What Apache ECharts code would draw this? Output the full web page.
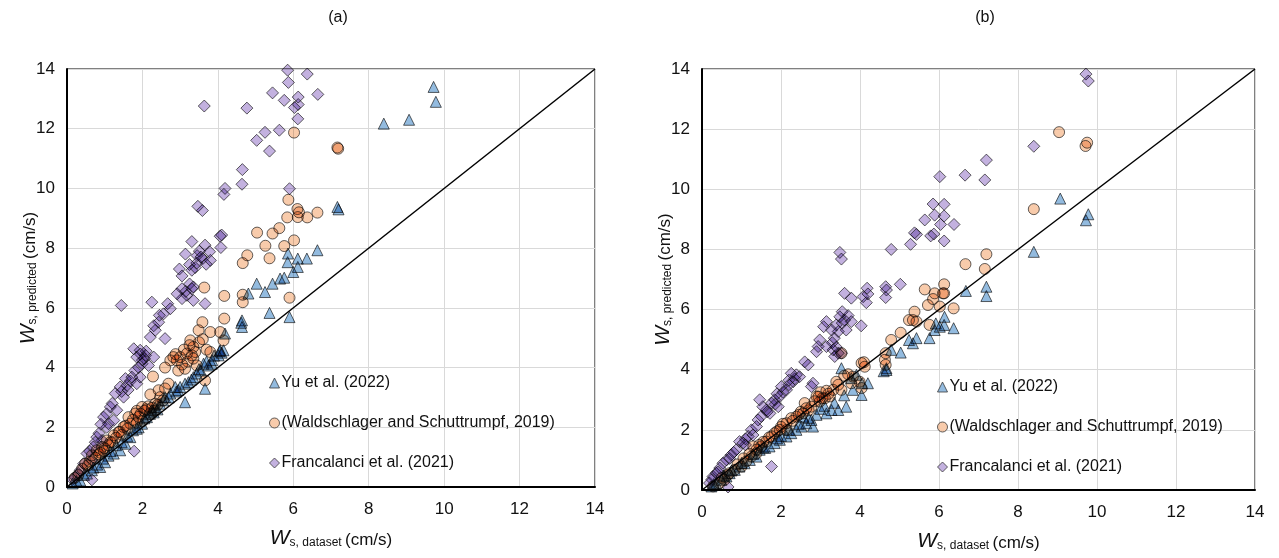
<!DOCTYPE html>
<html>
<head>
<meta charset="utf-8">
<script src="https://cdn.jsdelivr.net/npm/echarts@6/dist/echarts.min.js"></script>
<style>
html,body{margin:0;padding:0;background:#fff;}
#chart{width:1279px;height:558px;}
</style>
</head>
<body>
<div id="chart"></div>
<script>
// ---------- DATA ----------
const panelTitles = ['(a)', '(b)'];
const seriesNames = ['Yu et al. (2022)', '(Waldschlager and Schuttrumpf, 2019)', 'Francalanci et al. (2021)'];
const axisTicks = [0, 2, 4, 6, 8, 10, 12, 14];
const oneToOne = [[0, 0], [14, 14]];

// Panel (a): [W_s,dataset, W_s,predicted]
const aYu = [
  [9.72,13.4],[9.78,12.9],[9.07,12.3],[8.4,12.17],[7.17,9.38],[7.2,9.3],
  [6.64,7.93],[6.36,7.65],[6.12,7.65],[6.12,7.37],[6.0,7.2],[5.86,7.82],[5.85,7.53],
  [5.76,7.01],[5.65,6.98],[5.45,6.81],[5.25,6.53],[5.03,6.81],[4.81,6.48],
  [5.9,5.69],[5.37,5.83],[4.64,5.58],[4.64,5.36],[4.62,5.5],[4.19,5.14],[4.15,4.58],[4.02,4.41],
  [4.06,4.58],[4.1,4.5],[3.84,4.13],[3.75,4.07],[3.62,4.13],[3.66,3.29],[3.44,3.8],[3.35,3.68],
  [3.22,3.51],[3.13,3.46],[3.13,2.84],[3.0,3.35],[2.87,3.35],[2.74,3.13],[2.6,3.01],
  [2.47,2.79],[2.34,2.68],[2.25,2.57],[2.12,2.34],[1.99,2.12],[1.85,1.95],[1.68,1.67],
  [1.55,1.45],[1.41,1.23],[1.24,1.12],[1.01,0.83],[0.88,0.67],[0.66,0.56],[0.53,0.45],
  [0.35,0.22],[2.9,3.2],[2.55,2.9],[2.05,2.3],[1.75,1.9],[1.3,1.4],[1.1,1.05],[0.8,0.75],
  [3.5,3.95],[3.9,4.4],[1.9,2.0],[2.4,2.6],[3.55,3.9],[3.7,4.2],[3.3,3.6],[2.95,3.25],
  [2.7,3.0],[2.2,2.45],[1.6,1.7],[1.45,1.5],[1.15,1.2],[0.95,0.95],[0.7,0.65],[0.45,0.4],
  [0.25,0.2],[0.15,0.12],[2.3,2.5],[3.85,4.25],[4.05,4.55]
];
const aWald = [
  [6.02,11.87],[7.17,11.37],[7.19,11.33],[5.87,9.62],[6.11,9.31],[6.15,9.2],[6.64,9.19],
  [6.37,9.03],[5.84,9.03],[6.12,9.04],[5.63,8.67],[5.45,8.49],[5.04,8.52],[6.02,8.26],
  [5.26,8.08],[5.76,8.07],[4.78,7.76],[4.66,7.5],[5.37,7.66],[3.64,6.68],[4.17,6.4],
  [4.66,6.44],[4.66,6.19],[5.9,6.34],[3.59,5.52],[4.17,5.64],[3.49,5.25],[3.8,5.19],
  [4.06,5.19],[4.15,4.91],[3.27,4.91],[3.35,4.69],[3.4,4.52],[3.31,4.41],[3.18,4.47],
  [3.0,4.35],[2.82,4.35],[2.91,4.24],[2.74,4.24],[3.13,3.96],[3.8,4.52],[3.44,4.07],
  [2.28,3.7],[2.69,3.46],[3.66,3.57],[2.43,3.24],[2.21,3.1],[2.47,3.01],[2.34,2.79],
  [1.99,2.68],[1.81,2.46],[1.63,2.34],[1.68,2.12],[1.5,2.01],[1.37,1.84],[1.24,1.73],
  [1.06,1.56],[0.93,1.34],[0.79,1.23],[0.66,1.06],[0.48,0.78],[0.4,0.61],
  [2.1,2.6],[2.2,2.45],[1.9,2.35],[2.3,2.55],[2.0,2.2],[1.85,2.15],[1.45,1.75],
  [1.2,1.5],[1.0,1.3],[2.6,3.3],[3.05,4.1],[2.95,3.9],[3.2,4.2],[1.6,1.95],[0.85,1.1],[0.3,0.4],
  [3.1,4.6],[3.25,4.75],[2.88,4.45],[3.35,4.3],[3.5,4.85],[3.6,4.95],[3.7,4.6],[2.6,4.0],
  [2.05,2.55],[1.95,2.45],[2.15,2.7],[2.25,2.65],[2.4,2.75],[1.75,2.25],[1.55,2.05],
  [1.4,1.85],[1.3,1.65],[1.15,1.5],[1.1,1.4],[0.98,1.2],[0.88,1.15],[0.75,0.98],
  [0.6,0.85],[0.55,0.72],[0.2,0.3],[2.55,2.9],[1.85,2.55]
];
const aFran = [
  [5.85,13.96],[6.37,13.83],[5.87,13.55],[5.45,13.2],[6.13,13.06],[6.65,13.15],[5.76,12.95],
  [3.64,12.76],[4.77,12.69],[6.03,12.71],[6.13,12.81],[6.12,12.33],[5.25,11.88],[5.63,11.95],
  [5.03,11.61],[5.37,11.25],[4.65,10.63],[4.64,10.14],[4.19,10.0],[4.16,9.8],[5.9,9.99],
  [3.47,9.4],[3.59,9.26],[4.1,8.44],[4.06,8.4],[3.31,8.22],[3.66,8.1],[3.14,7.8],[4.08,8.02],
  [3.51,7.9],[3.78,7.88],[3.55,7.7],[3.44,7.5],[3.69,7.46],[3.8,7.59],[3.31,7.26],[2.98,7.3],
  [3.05,7.07],[3.05,6.64],[3.35,6.7],[2.92,6.47],[3.05,6.31],[3.18,6.42],[3.31,6.64],
  [3.35,6.25],[3.66,6.14],[2.67,6.14],[2.74,5.97],[2.56,5.8],[2.43,5.52],[2.25,6.19],
  [1.44,6.08],[2.34,5.25],[2.21,5.02],[2.6,4.97],[1.77,4.63],[1.94,4.58],[2.08,4.41],
  [2.3,4.35],[1.99,4.13],[2.16,4.07],[1.55,3.63],[1.72,3.68],[1.94,3.68],[1.41,3.35],
  [1.59,3.4],[1.85,3.46],[1.28,3.13],[1.5,3.01],[1.15,2.68],[1.32,2.57],[0.97,2.34],
  [1.1,2.12],[1.24,2.23],[0.79,1.67],[0.93,1.56],[0.7,1.34],[0.53,1.12],[0.66,0.89],
  [0.44,0.78],[0.35,0.56],[0.22,0.33],[0.66,0.24],[1.78,1.2],[2.05,4.3],[1.8,3.9],[1.05,2.0],
  [0.85,1.8],[1.95,4.45],[2.0,4.25],[1.9,4.0],[2.1,4.55],[1.85,4.35],[1.68,3.55],[1.62,3.25],
  [1.45,3.2],[1.2,2.8],[1.05,2.45],[0.9,2.1],[0.75,1.5],[0.6,1.2],[3.45,7.75],[3.6,7.65],
  [3.4,7.35],[3.25,7.45],[3.15,6.55],[3.25,6.8],[2.45,5.75],[2.3,5.4],[0.3,0.45],[0.15,0.25]
];

// Panel (b)
const bYu = [
  [9.07,9.69],[9.72,8.97],[9.78,9.17],[8.4,7.92],[6.68,6.62],[7.2,6.76],[7.2,6.45],
  [6.37,5.38],[6.14,5.76],[6.13,5.49],[6.02,5.43],[5.89,5.32],[5.92,5.54],[5.76,5.05],
  [5.43,5.05],[5.34,4.88],[5.24,4.99],[5.03,4.57],[4.79,4.66],[4.67,3.99],[4.6,3.95],
  [3.53,4.05],[4.04,3.16],[4.2,3.55],[3.82,3.33],[3.65,2.77],[3.45,2.66],[3.28,2.66],
  [3.15,2.55],[2.9,2.5],[2.77,2.33],[2.64,2.22],[2.52,2.11],[2.39,2.0],[2.26,1.89],
  [2.14,1.78],[1.97,1.67],[1.84,1.56],[1.71,1.45],[1.46,1.34],[1.38,1.11],[1.21,1.0],
  [1.08,0.89],[0.95,0.78],[0.83,0.67],[0.7,0.56],[0.62,0.45],[0.49,0.34],[0.36,0.23],
  [0.24,0.12],[2.81,2.11],[2.56,2.44],[3.78,3.72],[3.91,3.83],[4.67,4.05],[3.0,2.7],
  [1.6,1.4],[2.0,1.8],[3.35,2.9],[3.1,2.8],[2.7,2.4],[2.45,2.2],[2.2,2.0],[1.9,1.72],
  [1.55,1.42],[1.3,1.2],[1.0,0.9],[0.75,0.65],[0.55,0.48],[0.3,0.2],[3.6,3.15],[4.05,3.55]
];
const bWald = [
  [9.04,11.9],[9.71,11.44],[9.75,11.55],[8.4,9.34],[7.2,7.84],[6.67,7.51],[7.16,7.35],
  [6.13,6.84],[6.13,6.54],[5.85,6.35],[5.64,6.67],[6.37,6.04],[6.02,6.1],[5.76,5.49],
  [5.38,5.93],[5.24,5.65],[5.43,5.6],[5.03,5.23],[4.79,4.99],[4.65,4.55],[4.63,4.33],
  [4.65,4.16],[5.89,6.54],[6.1,6.54],[5.72,6.15],[5.34,5.65],[4.04,4.22],[4.12,4.1],
  [3.99,3.6],[4.04,3.39],[3.82,3.77],[3.78,3.55],[3.53,4.55],[3.53,3.33],[3.32,3.33],
  [3.24,3.11],[3.11,3.05],[2.9,3.11],[2.98,2.94],[2.77,2.77],[2.6,2.89],[2.64,2.72],
  [2.56,2.55],[2.39,2.44],[2.26,2.39],[2.14,2.22],[1.97,2.0],[1.84,1.89],[1.76,1.78],
  [1.63,1.61],[1.5,1.45],[1.38,1.34],[1.25,1.11],[1.12,0.95],[1.0,0.78],[0.83,0.67],
  [0.7,0.56],[0.57,0.34],[0.45,0.23],[0.28,0.12],[1.38,1.22],[3.4,3.6],[3.6,3.8],
  [3.0,3.25],[2.5,2.6],[2.0,2.1],[1.7,1.75],[1.3,1.45],[3.45,3.5],[3.2,3.2],[3.05,3.05],
  [2.85,2.95],[2.7,2.65],[2.45,2.5],[2.3,2.3],[2.05,2.2],[1.9,1.95],[1.55,1.6],[1.45,1.5],
  [1.2,1.2],[1.05,1.05],[0.9,0.85],[0.65,0.5],[0.5,0.4],[3.7,3.85],[4.1,4.25],[2.15,2.0],
  [3.15,3.3],[2.95,3.1]
];
const bFran = [
  [9.72,13.83],[9.78,13.6],[8.4,11.43],[7.2,10.97],[6.66,10.47],[7.16,10.31],[6.02,10.42],
  [5.85,9.51],[6.13,9.5],[5.89,9.14],[6.13,9.11],[5.64,8.98],[6.38,8.83],[6.04,8.83],
  [5.79,8.45],[5.87,8.51],[6.13,8.28],[5.38,8.55],[5.43,8.5],[5.28,8.17],[4.79,8.0],
  [3.49,7.9],[3.53,7.68],[4.18,6.71],[4.65,6.76],[5.02,6.84],[4.67,6.65],[4.65,6.4],
  [3.61,6.54],[3.78,6.38],[4.08,6.43],[4.16,6.23],[4.2,6.52],[3.55,5.93],[3.49,5.76],
  [3.61,5.65],[3.78,5.6],[4.03,5.46],[3.4,5.49],[3.65,5.32],[3.45,5.27],[3.15,5.6],
  [3.08,5.43],[3.28,5.32],[2.98,4.99],[2.94,4.77],[3.15,4.77],[3.32,4.66],[3.36,4.44],
  [3.45,4.55],[3.53,4.55],[2.6,4.26],[2.69,4.16],[2.77,3.44],[2.81,3.55],[2.47,3.77],
  [2.39,3.83],[2.26,3.88],[2.31,3.6],[2.14,3.33],[2.01,3.44],[1.97,3.11],[1.84,3.0],
  [1.76,2.89],[1.72,2.55],[1.93,2.77],[1.46,3.0],[1.54,2.77],[1.63,2.66],[1.42,2.33],
  [1.38,2.11],[1.29,1.83],[1.17,1.78],[1.04,1.56],[0.95,1.61],[0.87,1.34],[0.74,1.17],
  [0.62,1.0],[0.53,0.89],[0.45,0.73],[0.36,0.56],[0.28,0.45],[0.19,0.23],[0.66,0.1],
  [1.76,0.78],[2.2,3.5],[1.9,3.2],[1.1,1.5],[2.35,3.7],[2.2,3.65],[2.05,3.25],[1.85,2.85],
  [1.65,2.6],[1.5,2.45],[1.25,2.0],[1.1,1.7],[0.8,1.25],[0.7,1.05],[3.3,4.9],[3.35,5.05],
  [3.4,4.75],[3.55,5.55],[3.7,5.8],[2.9,4.6],[0.4,0.6],[0.25,0.35]
];

// ---------- CHART ----------
const FONT = '"Liberation Sans", Arial, sans-serif';
const TXT = '#111';
const panels = [
  {yu: aYu, wald: aWald, fran: aFran},
  {yu: bYu, wald: bWald, fran: bFran}
];
const grids = [
  {left: 67, top: 69, width: 528, height: 418},
  {left: 702, top: 69, width: 553, height: 421}
];
const legendPos = [{left: 264, top: 370}, {left: 932, top: 374}];
const titleX = [333, 980];

const colYu = 'rgb(120,170,215)';
const colWald = 'rgb(246,190,150)';
const colFran = 'rgb(180,158,215)';
const border = {borderColor: '#3c3c3c', borderWidth: 1};

function axisName(sub) {
  return '{w|W}{s|s, ' + sub + '} {n|(cm/s)}';
}
const nameRich = {
  w: {fontSize: 21, fontStyle: 'italic', fontFamily: FONT, color: TXT, verticalAlign: 'bottom', lineHeight: 24},
  s: {fontSize: 12, fontFamily: FONT, color: TXT, verticalAlign: 'bottom', lineHeight: 17},
  n: {fontSize: 17, fontFamily: FONT, color: TXT, verticalAlign: 'bottom', lineHeight: 22}
};

const xAxes = [], yAxes = [], series = [], legends = [], titles = [];
grids.forEach((g, i) => {
  xAxes.push({
    gridIndex: i, type: 'value', min: axisTicks[0], max: axisTicks[axisTicks.length - 1], interval: 2,
    name: axisName('dataset'), nameLocation: 'middle', nameGap: 38, nameMoveOverlap: false,
    nameTextStyle: {rich: nameRich},
    axisLine: {lineStyle: {color: '#000', width: 2}},
    axisTick: {show: false},
    axisLabel: {fontSize: 17, fontFamily: FONT, color: TXT, margin: 14},
    splitLine: {lineStyle: {color: '#d9d9d9', width: 1}}
  });
  yAxes.push({
    gridIndex: i, type: 'value', min: axisTicks[0], max: axisTicks[axisTicks.length - 1], interval: 2,
    name: axisName('predicted'), nameLocation: 'middle', nameGap: 28, nameRotate: 90, nameMoveOverlap: false,
    nameTextStyle: {rich: nameRich},
    axisLine: {lineStyle: {color: '#000', width: 2}},
    axisTick: {show: false},
    axisLabel: {fontSize: 17, fontFamily: FONT, color: TXT, margin: 12},
    splitLine: {lineStyle: {color: '#d9d9d9', width: 1}}
  });
  const p = panels[i];
  series.push({
    type: 'line', xAxisIndex: i, yAxisIndex: i, data: oneToOne, symbol: 'none',
    lineStyle: {color: '#000', width: 1.5}, silent: true, z: 1
  });
  series.push({
    name: seriesNames[0], type: 'scatter', xAxisIndex: i, yAxisIndex: i, data: p.yu,
    symbol: 'triangle', symbolSize: 11, blendMode: 'multiply',
    itemStyle: Object.assign({color: colYu}, border), z: 2
  });
  series.push({
    name: seriesNames[1], type: 'scatter', xAxisIndex: i, yAxisIndex: i, data: p.wald,
    symbol: 'circle', symbolSize: 11, blendMode: 'multiply',
    itemStyle: Object.assign({color: colWald}, border), z: 3
  });
  series.push({
    name: seriesNames[2], type: 'scatter', xAxisIndex: i, yAxisIndex: i, data: p.fran,
    symbol: 'diamond', symbolSize: 12, blendMode: 'multiply',
    itemStyle: Object.assign({color: colFran}, border), z: 4
  });
  legends.push({
    orient: 'vertical', left: legendPos[i].left, top: legendPos[i].top,
    data: seriesNames, itemWidth: 10, itemHeight: 10, itemGap: 24,
    textStyle: {fontSize: 16, fontFamily: FONT, color: TXT, padding: [0, 0, 0, -3]},
    selectedMode: false,
    itemStyle: {borderColor: '#3a3a3a', borderWidth: 1}
  });
  titles.push({
    text: panelTitles[i], left: titleX[i], top: 5, textAlign: 'center',
    textStyle: {fontSize: 16, fontWeight: 'normal', fontFamily: FONT, color: TXT}
  });
});

const gridOpts = grids.map(g => Object.assign({show: true, borderColor: '#000', borderWidth: 1, backgroundColor: 'transparent'}, g));

const chart = echarts.init(document.getElementById('chart'), null, {renderer: 'canvas'});
chart.setOption({
  animation: false,
  backgroundColor: '#fff',
  title: titles,
  grid: gridOpts,
  xAxis: xAxes,
  yAxis: yAxes,
  legend: legends,
  series: series
});
</script>
</body>
</html>
